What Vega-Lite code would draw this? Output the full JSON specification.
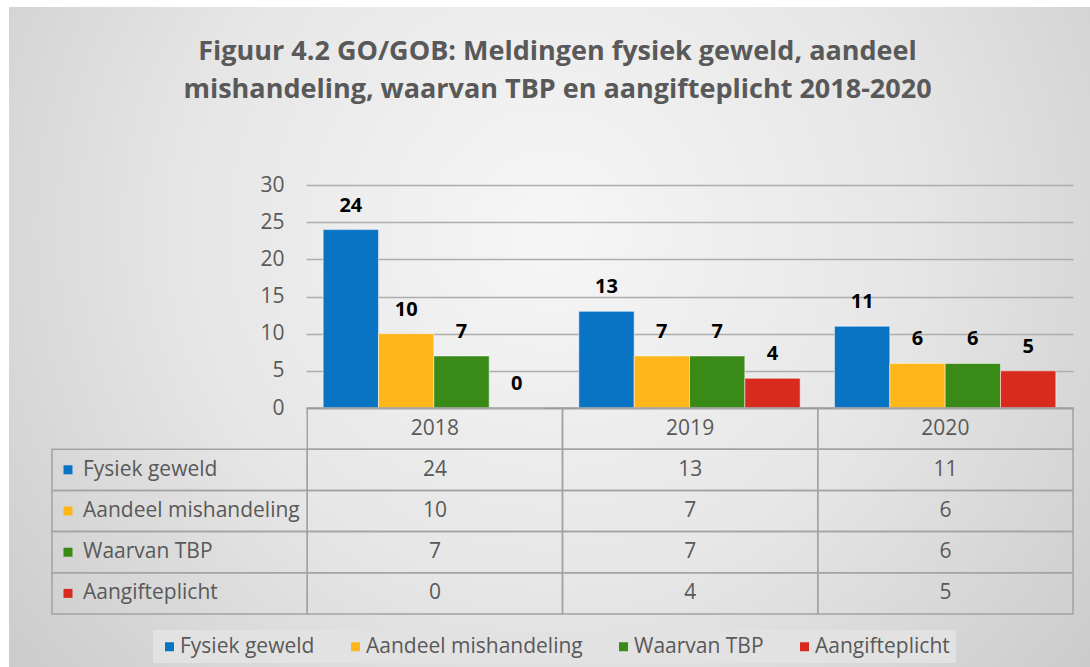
{
  "$schema": "https://vega.github.io/schema/vega-lite/v6.json",
  "width": 1081,
  "height": 660,
  "autosize": {"type": "none"},
  "padding": {"left": 9, "top": 7, "right": 0, "bottom": 0},
  "background": "#ffffff",
  "view": {
    "stroke": null,
    "fill": {
      "gradient": "radial",
      "x1": 0.5, "y1": 0.4, "r1": 0,
      "x2": 0.5, "y2": 0.4, "r2": 0.75,
      "stops": [
        {"offset": 0, "color": "#f6f6f6"},
        {"offset": 0.45, "color": "#e6e6e6"},
        {"offset": 1, "color": "#c2c2c2"}
      ]
    }
  },
  "title": {
    "text": ["Figuur 4.2 GO/GOB: Meldingen fysiek geweld, aandeel", "mishandeling,  waarvan TBP en aangifteplicht 2018-2020"],
    "font": "Open Sans",
    "fontSize": 27,
    "fontWeight": "bold",
    "color": "#595959",
    "anchor": "middle",
    "frame": "group",
    "baseline": "top",
    "lineHeight": 38,
    "offset": -97,
    "dx": 8
  },
  "datasets": {
    "values": [
      {"year": "2018", "series": "Fysiek geweld", "value": 24},
      {"year": "2018", "series": "Aandeel mishandeling", "value": 10},
      {"year": "2018", "series": "Waarvan TBP", "value": 7},
      {"year": "2018", "series": "Aangifteplicht", "value": 0},
      {"year": "2019", "series": "Fysiek geweld", "value": 13},
      {"year": "2019", "series": "Aandeel mishandeling", "value": 7},
      {"year": "2019", "series": "Waarvan TBP", "value": 7},
      {"year": "2019", "series": "Aangifteplicht", "value": 4},
      {"year": "2020", "series": "Fysiek geweld", "value": 11},
      {"year": "2020", "series": "Aandeel mishandeling", "value": 6},
      {"year": "2020", "series": "Waarvan TBP", "value": 6},
      {"year": "2020", "series": "Aangifteplicht", "value": 5}
    ],
    "years": [{"year": "2018"}, {"year": "2019"}, {"year": "2020"}],
    "series": [
      {"series": "Fysiek geweld"},
      {"series": "Aandeel mishandeling"},
      {"series": "Waarvan TBP"},
      {"series": "Aangifteplicht"}
    ]
  },
  "layer": [
    {
      "data": {"name": "values"},
      "encoding": {
        "x": {
          "field": "year", "type": "nominal",
          "scale": {"domain": ["2018", "2019", "2020"], "range": [297, 1064], "paddingInner": 0, "paddingOuter": 0},
          "axis": {"orient": "bottom", "offset": -259, "labels": false, "ticks": false, "title": null, "grid": false, "domainColor": "#8a8a8a", "domainWidth": 1.5}
        },
        "xOffset": {
          "field": "series", "type": "nominal",
          "scale": {"domain": ["Fysiek geweld", "Aandeel mishandeling", "Waarvan TBP", "Aangifteplicht"], "paddingInner": 0, "paddingOuter": 0.31}
        },
        "y": {
          "field": "value", "type": "quantitative",
          "scale": {"domain": [0, 30], "range": [401, 178], "nice": false},
          "axis": {
            "title": null, "offset": -297, "domain": false, "ticks": false, "tickSize": 0,
            "values": [0, 5, 10, 15, 20, 25, 30],
            "labelFont": "Open Sans", "labelFontSize": 21, "labelColor": "#595959", "labelPadding": 22,
            "grid": true, "gridColor": "#adadad", "gridWidth": 1.5
          }
        }
      },
      "layer": [
        {
          "mark": {"type": "bar", "stroke": "#ffffff", "strokeOpacity": 0.5, "strokeWidth": 1},
          "encoding": {
            "color": {
              "field": "series", "type": "nominal",
              "scale": {"domain": ["Fysiek geweld", "Aandeel mishandeling", "Waarvan TBP", "Aangifteplicht"], "range": ["#0a74c4", "#ffb61a", "#3a8a17", "#d92a1f"]},
              "legend": {
                "orient": "none", "legendX": 144, "legendY": 623, "direction": "horizontal", "title": null,
                "symbolType": "square", "symbolSize": 81, "symbolStrokeWidth": 0,
                "labelFont": "Open Sans", "labelFontSize": 21, "labelColor": "#595959", "labelOffset": 0, "labelLimit": 400,
                "columnPadding": 30, "padding": 6, "fillColor": "#e2e2e2"
              }
            }
          }
        },
        {
          "mark": {"type": "text", "font": "Open Sans", "fontSize": 20, "fontWeight": "bold", "color": "#000000", "baseline": "middle", "dy": -24},
          "encoding": {"text": {"field": "value", "type": "quantitative"}}
        }
      ]
    },
    {
      "layer": [
        {
          "data": {"name": "years"},
          "mark": {"type": "rect", "fill": "transparent", "stroke": "#a3a3a3", "strokeWidth": 1.5},
          "encoding": {
            "x": {"field": "year", "type": "nominal", "scale": {"domain": ["label", "2018", "2019", "2020"], "range": [43, 1064], "paddingInner": 0, "paddingOuter": 0}, "axis": null},
            "y": {"datum": "header", "type": "nominal", "scale": {"domain": ["header", "Fysiek geweld", "Aandeel mishandeling", "Waarvan TBP", "Aangifteplicht"], "range": [401, 607], "paddingInner": 0, "paddingOuter": 0}, "axis": null}
          }
        },
        {
          "data": {"name": "values"},
          "mark": {"type": "rect", "fill": "transparent", "stroke": "#a3a3a3", "strokeWidth": 1.5},
          "encoding": {
            "x": {"field": "year", "type": "nominal", "scale": {"domain": ["label", "2018", "2019", "2020"], "range": [43, 1064], "paddingInner": 0, "paddingOuter": 0}, "axis": null},
            "y": {"field": "series", "type": "nominal", "scale": {"domain": ["header", "Fysiek geweld", "Aandeel mishandeling", "Waarvan TBP", "Aangifteplicht"], "range": [401, 607], "paddingInner": 0, "paddingOuter": 0}, "axis": null}
          }
        },
        {
          "data": {"name": "series"},
          "mark": {"type": "rect", "fill": "transparent", "stroke": "#a3a3a3", "strokeWidth": 1.5},
          "encoding": {
            "x": {"datum": "label", "type": "nominal", "scale": {"domain": ["label", "2018", "2019", "2020"], "range": [43, 1064], "paddingInner": 0, "paddingOuter": 0}, "axis": null},
            "y": {"field": "series", "type": "nominal", "scale": {"domain": ["header", "Fysiek geweld", "Aandeel mishandeling", "Waarvan TBP", "Aangifteplicht"], "range": [401, 607], "paddingInner": 0, "paddingOuter": 0}, "axis": null}
          }
        },
        {
          "data": {"name": "years"},
          "mark": {"type": "text", "font": "Open Sans", "fontSize": 21, "color": "#595959", "baseline": "middle"},
          "encoding": {
            "x": {"field": "year", "type": "nominal", "scale": {"domain": ["label", "2018", "2019", "2020"], "range": [43, 1064], "paddingInner": 0, "paddingOuter": 0}, "axis": null},
            "y": {"datum": "header", "type": "nominal", "scale": {"domain": ["header", "Fysiek geweld", "Aandeel mishandeling", "Waarvan TBP", "Aangifteplicht"], "range": [401, 607], "paddingInner": 0, "paddingOuter": 0}, "axis": null},
            "text": {"field": "year", "type": "nominal"}
          }
        },
        {
          "data": {"name": "values"},
          "mark": {"type": "text", "font": "Open Sans", "fontSize": 21, "color": "#595959", "baseline": "middle"},
          "encoding": {
            "x": {"field": "year", "type": "nominal", "scale": {"domain": ["label", "2018", "2019", "2020"], "range": [43, 1064], "paddingInner": 0, "paddingOuter": 0}, "axis": null},
            "y": {"field": "series", "type": "nominal", "scale": {"domain": ["header", "Fysiek geweld", "Aandeel mishandeling", "Waarvan TBP", "Aangifteplicht"], "range": [401, 607], "paddingInner": 0, "paddingOuter": 0}, "axis": null},
            "text": {"field": "value", "type": "quantitative"}
          }
        },
        {
          "data": {"name": "series"},
          "mark": {"type": "text", "font": "Open Sans", "fontSize": 21, "color": "#595959", "baseline": "middle", "align": "left", "dx": 31},
          "encoding": {
            "x": {"datum": "label", "type": "nominal", "bandPosition": 0, "scale": {"domain": ["label", "2018", "2019", "2020"], "range": [43, 1064], "paddingInner": 0, "paddingOuter": 0}, "axis": null},
            "y": {"field": "series", "type": "nominal", "scale": {"domain": ["header", "Fysiek geweld", "Aandeel mishandeling", "Waarvan TBP", "Aangifteplicht"], "range": [401, 607], "paddingInner": 0, "paddingOuter": 0}, "axis": null},
            "text": {"field": "series", "type": "nominal"}
          }
        },
        {
          "data": {"name": "series"},
          "mark": {"type": "square", "size": 81, "opacity": 1, "filled": true, "xOffset": 16},
          "encoding": {
            "x": {"datum": "label", "type": "nominal", "bandPosition": 0, "scale": {"domain": ["label", "2018", "2019", "2020"], "range": [43, 1064], "paddingInner": 0, "paddingOuter": 0}, "axis": null},
            "y": {"field": "series", "type": "nominal", "scale": {"domain": ["header", "Fysiek geweld", "Aandeel mishandeling", "Waarvan TBP", "Aangifteplicht"], "range": [401, 607], "paddingInner": 0, "paddingOuter": 0}, "axis": null},
            "color": {"field": "series", "type": "nominal"}
          }
        }
      ]
    }
  ],
  "resolve": {"scale": {"x": "independent", "y": "independent"}}
}
